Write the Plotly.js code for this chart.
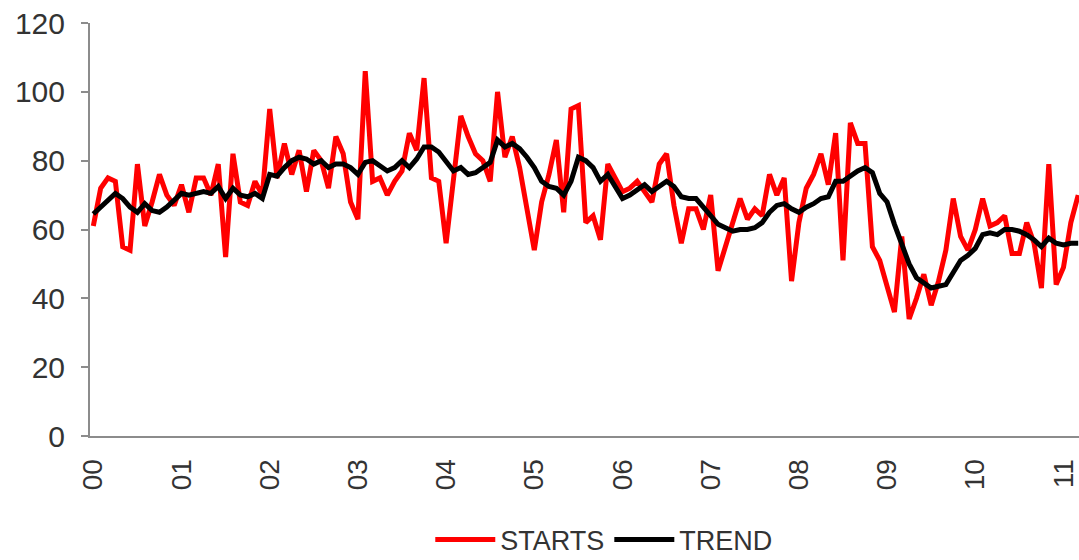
<!DOCTYPE html>
<html>
<head>
<meta charset="utf-8">
<script src="https://cdn.plot.ly/plotly-3.0.1.min.js"></script>
<style>
  html, body { margin: 0; padding: 0; background: #ffffff; }
  #chart { width: 1079px; height: 560px; }
</style>
</head>
<body>
<div id="chart"></div>
<script>
// Year tick labels (one per January, 2000 .. 2011)
const yearLabels = ['00','01','02','03','04','05','06','07','08','09','10','11'];

// Monthly housing STARTS, Jan 2000 .. Mar 2011
const starts = [
  61, 72, 75, 74, 55, 54, 79, 61, 68, 76, 70, 67,
  73, 65, 75, 75, 70, 79, 52, 82, 68, 67, 74, 70,
  95, 75, 85, 76, 83, 71, 83, 80, 72, 87, 82, 68,
  63, 106, 74, 75, 70, 74, 77, 88, 83, 104, 75, 74,
  56, 74, 93, 87, 82, 80, 74, 100, 81, 87, 78, 66,
  54, 68, 76, 86, 65, 95, 96, 62, 64, 57, 79, 75,
  71, 72, 74, 71, 68, 79, 82, 67, 56, 66, 66, 60,
  70, 48, 55, 61, 69, 63, 66, 64, 76, 70, 75, 45,
  62, 72, 76, 82, 73, 88, 51, 91, 85, 85, 55, 51,
  43, 36, 58, 34, 40, 47, 38, 45, 54, 69, 58, 54,
  60, 69, 61, 62, 64, 53, 53, 62, 56, 43, 79, 44,
  49, 62, 70
];

// Monthly TREND, same months
const trend = [
  64.5, 66.5, 68.5, 70.5, 69, 66.5, 65, 67.5, 65.5, 65, 66.5, 68.5,
  70.5, 70, 70.5, 71, 70.5, 72.5, 69, 72, 70, 69.5, 70.5, 69,
  76, 75.5, 78, 80, 81, 80.5, 79, 80, 78, 79, 79, 78,
  76, 79.5, 80, 78.5, 77, 78, 80, 78, 80.5, 84, 84, 82.5,
  79.5, 77, 78, 76, 76.5, 78, 79.5, 86, 84, 85, 83.5, 81,
  78, 74, 72.5, 72, 70, 74, 81, 80, 78, 74, 76, 72.5,
  69, 70, 71.5, 73, 71, 72.5, 74, 72.5, 69.5, 69, 69, 66.5,
  64, 61.5, 60.5, 59.5, 60, 60, 60.5, 62, 65, 67, 67.5, 66,
  65, 66.5, 67.5, 69, 69.5, 74, 74, 75.5, 77, 78, 76.5, 70.5,
  68, 61.5, 56, 50, 46, 44.5, 43, 43.5, 44, 47.5, 51, 52.5,
  54.5, 58.5, 59, 58.5, 60, 60, 59.5, 58.5, 57, 55, 57.5, 56,
  55.5, 56, 56
];

const monthIndex = starts.map((_, i) => i);
const yearTickPos = yearLabels.map((_, i) => i * 12);

const font = 'Liberation Sans, Arial, Helvetica, sans-serif';

const data = [
  {
    x: monthIndex, y: starts, name: 'STARTS', type: 'scatter', mode: 'lines',
    line: { color: '#ff0000', width: 5 }
  },
  {
    x: monthIndex, y: trend, name: 'TREND', type: 'scatter', mode: 'lines',
    line: { color: '#000000', width: 5 }
  }
];

const layout = {
  width: 1079, height: 560,
  margin: { l: 90, r: 0, t: 23, b: 124, pad: 0, autoexpand: false },
  paper_bgcolor: '#ffffff', plot_bgcolor: '#ffffff',
  font: { family: font, size: 28, color: '#333333' },
  showlegend: true,
  legend: {
    orientation: 'h', x: 0.52, xanchor: 'center',
    yref: 'container', y: 0.036, yanchor: 'middle',
    font: { family: font, size: 27, color: '#333333' },
    itemwidth: 60, tracegroupgap: 0
  },
  xaxis: {
    range: [-0.45, 134.11],
    showgrid: false, zeroline: false,
    showline: true, linecolor: '#8c8c8c', linewidth: 2,
    ticks: '',
    tickmode: 'array', tickvals: yearTickPos, ticktext: yearLabels,
    tickangle: -90, ticklabelshift: 0, ticklabelstandoff: 10,
    ticklabeloverflow: 'allow',
    tickfont: { family: font, size: 28, color: '#333333' },
    automargin: false,
    fixedrange: true
  },
  yaxis: {
    range: [0, 120], dtick: 20, tick0: 0,
    showgrid: false, zeroline: false,
    showline: true, linecolor: '#8c8c8c', linewidth: 2,
    ticks: 'outside', ticklen: 7, tickwidth: 2, tickcolor: '#8c8c8c',
    ticklabelstandoff: 10,
    tickfont: { family: font, size: 30, color: '#333333' },
    automargin: false,
    fixedrange: true
  }
};

Plotly.newPlot('chart', data, layout, { displayModeBar: false, staticPlot: true });
</script>
</body>
</html>
